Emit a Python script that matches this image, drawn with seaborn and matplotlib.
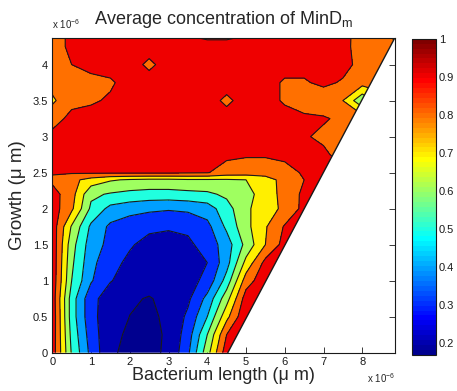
import numpy as np
import matplotlib
matplotlib.use("Agg")
import matplotlib.pyplot as plt
import seaborn as sns
from matplotlib.colors import Normalize, ListedColormap
from matplotlib.patches import Polygon
from matplotlib.ticker import FuncFormatter
import matplotlib.cm as cm

# grid (micrometres)
length_um = [0.0, 0.5, 1.0, 1.5, 2.0, 2.5, 3.0, 3.5, 4.0, 4.5, 5.0, 5.5, 6.0, 6.5, 7.0, 7.5, 8.0, 8.5, 9.0]
growth_um = [0.0, 0.25, 0.5, 0.75, 1.0, 1.25, 1.5, 1.75, 2.0, 2.2, 2.4, 2.5, 2.75, 3.0, 3.25, 3.5, 3.75, 4.0, 4.25, 4.5]

# average MinD_m concentration, one row per growth value
conc = [
    [0.96, 0.59, 0.37, 0.215, 0.175, 0.185, 0.21, 0.38, 0.66, 0.96, 0.97, 0.97, 0.97, 0.97, 0.97, 0.97, 0.97, 0.97, 0.97],
    [0.965, 0.57, 0.35, 0.225, 0.185, 0.18, 0.21, 0.35, 0.6, 0.9, 0.98, 0.97, 0.97, 0.97, 0.97, 0.97, 0.97, 0.97, 0.97],
    [0.97, 0.55, 0.33, 0.24, 0.199, 0.185, 0.215, 0.32, 0.5, 0.77, 0.99, 0.97, 0.97, 0.97, 0.97, 0.97, 0.97, 0.97, 0.97],
    [0.96, 0.55, 0.33, 0.25, 0.21, 0.195, 0.22, 0.28, 0.43, 0.66, 0.95, 0.97, 0.97, 0.97, 0.97, 0.97, 0.97, 0.97, 0.97],
    [0.97, 0.6, 0.41, 0.305, 0.26, 0.23, 0.23, 0.26, 0.33, 0.54, 0.85, 0.97, 0.97, 0.97, 0.97, 0.97, 0.97, 0.97, 0.97],
    [0.97, 0.62, 0.43, 0.33, 0.28, 0.25, 0.25, 0.27, 0.3, 0.46, 0.73, 0.93, 0.97, 0.97, 0.97, 0.97, 0.97, 0.97, 0.97],
    [0.97, 0.64, 0.45, 0.37, 0.31, 0.27, 0.265, 0.28, 0.34, 0.45, 0.63, 0.8, 0.94, 0.96, 0.96, 0.96, 0.96, 0.96, 0.96],
    [0.96, 0.69, 0.48, 0.38, 0.34, 0.32, 0.31, 0.32, 0.37, 0.52, 0.67, 0.79, 0.91, 0.95, 0.95, 0.95, 0.95, 0.95, 0.95],
    [0.95, 0.82, 0.58, 0.47, 0.44, 0.42, 0.41, 0.42, 0.45, 0.56, 0.68, 0.76, 0.82, 0.93, 0.95, 0.95, 0.95, 0.95, 0.95],
    [0.94, 0.84, 0.62, 0.59, 0.57, 0.56, 0.56, 0.57, 0.58, 0.62, 0.67, 0.74, 0.84, 0.92, 0.95, 0.95, 0.95, 0.95, 0.95],
    [0.88, 0.83, 0.76, 0.71, 0.69, 0.68, 0.68, 0.69, 0.69, 0.69, 0.7, 0.75, 0.84, 0.9, 0.94, 0.95, 0.95, 0.95, 0.95],
    [0.91, 0.91, 0.915, 0.915, 0.915, 0.915, 0.915, 0.91, 0.905, 0.86, 0.85, 0.85, 0.87, 0.91, 0.93, 0.93, 0.93, 0.93, 0.93],
    [0.93, 0.93, 0.93, 0.93, 0.93, 0.93, 0.93, 0.93, 0.93, 0.92, 0.91, 0.91, 0.92, 0.93, 0.92, 0.86, 0.86, 0.86, 0.86],
    [0.92, 0.93, 0.93, 0.93, 0.93, 0.93, 0.93, 0.93, 0.93, 0.93, 0.93, 0.93, 0.93, 0.91, 0.88, 0.85, 0.85, 0.85, 0.85],
    [0.87, 0.92, 0.93, 0.93, 0.93, 0.93, 0.93, 0.93, 0.93, 0.93, 0.93, 0.93, 0.93, 0.92, 0.91, 0.88, 0.85, 0.85, 0.85],
    [0.78, 0.88, 0.89, 0.91, 0.93, 0.93, 0.93, 0.93, 0.93, 0.885, 0.93, 0.93, 0.89, 0.85, 0.84, 0.8, 0.62, 0.75, 0.8],
    [0.84, 0.87, 0.88, 0.89, 0.93, 0.93, 0.93, 0.93, 0.93, 0.93, 0.93, 0.93, 0.89, 0.89, 0.92, 0.89, 0.84, 0.85, 0.85],
    [0.85, 0.9, 0.92, 0.93, 0.93, 0.885, 0.93, 0.93, 0.93, 0.93, 0.93, 0.93, 0.93, 0.93, 0.93, 0.93, 0.87, 0.85, 0.85],
    [0.86, 0.92, 0.93, 0.93, 0.93, 0.93, 0.93, 0.93, 0.93, 0.93, 0.93, 0.93, 0.93, 0.93, 0.93, 0.92, 0.87, 0.84, 0.8],
    [0.86, 0.92, 0.93, 0.93, 0.93, 0.93, 0.93, 0.88, 0.85, 0.85, 0.88, 0.93, 0.93, 0.93, 0.93, 0.93, 0.86, 0.8, 0.78],
]

# simulated domain ends on this diagonal (length, growth)
edge_length = [4.53, 8.84]
edge_growth = [0.0, 4.37]

levels = [0.2, 0.3, 0.4, 0.5, 0.6, 0.7, 0.8, 0.9]
cmin, cmax = 0.168, 1.0
x_ticks = [0, 1, 2, 3, 4, 5, 6, 7, 8]
y_ticks = [0, 0.5, 1, 1.5, 2, 2.5, 3, 3.5, 4]
cbar_ticks = [0.2, 0.3, 0.4, 0.5, 0.6, 0.7, 0.8, 0.9, 1.0]


def matlab_jet(m=64):
    n = int(np.ceil(m / 4))
    u = np.concatenate([np.arange(1, n + 1) / n, np.ones(n - 1), np.arange(n, 0, -1) / n])
    g = int(np.ceil(n / 2)) - (1 if m % 4 == 1 else 0) + np.arange(1, len(u) + 1)
    r = g + n
    b = g - n
    J = np.zeros((m, 3))
    J[r[r <= m] - 1, 0] = u[r <= m]
    J[g[g <= m] - 1, 1] = u[g <= m]
    J[b[b >= 1] - 1, 2] = u[b >= 1]
    return ListedColormap(J)


sns.set_theme(style="ticks")
plt.rcParams['font.family'] = ['Liberation Sans', 'DejaVu Sans']
plt.rcParams['mathtext.fontset'] = 'custom'
plt.rcParams['mathtext.rm'] = 'Liberation Sans'

fig = plt.figure(figsize=(4.57, 3.91), dpi=100)
ax = fig.add_axes([0.1144, 0.098, 0.7495, 0.805])
cax = fig.add_axes([0.9015, 0.092, 0.0525, 0.809])

Z = np.array(conc)
norm = Normalize(cmin, cmax)
jet = matlab_jet(64)
bounds = [cmin] + levels + [cmax]
# matlab style: each band takes the colour of its lower level
band_colors = [jet(min(norm(b), 0.999)) for b in bounds[:-1]]

cf = ax.contourf(length_um, growth_um, Z, levels=bounds, colors=band_colors)
cl = ax.contour(length_um, growth_um, Z, levels=levels, colors='k', linewidths=0.8)
clip = Polygon([(0, 0), (edge_length[0], edge_growth[0]),
                (edge_length[1], edge_growth[1]), (0, edge_growth[1])],
               closed=True, transform=ax.transData)
cf.set_clip_path(clip)
cl.set_clip_path(clip)
ax.plot(edge_length, edge_growth, color='k', lw=1.0)

ax.set_xlim(0, edge_length[1])
ax.set_ylim(0, edge_growth[1])
ax.set_xticks(x_ticks)
ax.set_yticks(y_ticks)
fmt = FuncFormatter(lambda v, p: '%g' % v)
ax.xaxis.set_major_formatter(fmt)
ax.yaxis.set_major_formatter(fmt)
ax.tick_params(direction='in', length=4, width=0.6, top=True, right=True,
               labelsize=8, pad=3, colors='k')
for s in ax.spines.values():
    s.set_linewidth(0.8)
    s.set_color('k')

ax.set_xlabel('Bacterium length (\u03bc m)', fontsize=13, labelpad=0)
ax.set_ylabel('Growth (\u03bc m)', fontsize=13.5, labelpad=5)
ax.set_title('Average concentration of MinD$_{\\mathrm{m}}$', fontsize=13, pad=10)

ax.text(0.0, 1.022, 'x 10$^{-6}$', transform=ax.transAxes, fontsize=7,
        ha='left', va='bottom')
ax.text(1.0, -0.058, 'x 10$^{-6}$', transform=ax.transAxes, fontsize=7,
        ha='right', va='top')

cb = fig.colorbar(cm.ScalarMappable(norm=norm, cmap=jet), cax=cax, ticks=cbar_ticks)
cb.ax.yaxis.set_major_formatter(fmt)
cb.outline.set_linewidth(0.8)
cb.outline.set_edgecolor('k')
cax.tick_params(direction='in', length=3, width=0.6, labelsize=8, pad=2,
                left=True, right=True, colors='k')

fig.savefig('out.png', dpi=100, facecolor='white')
